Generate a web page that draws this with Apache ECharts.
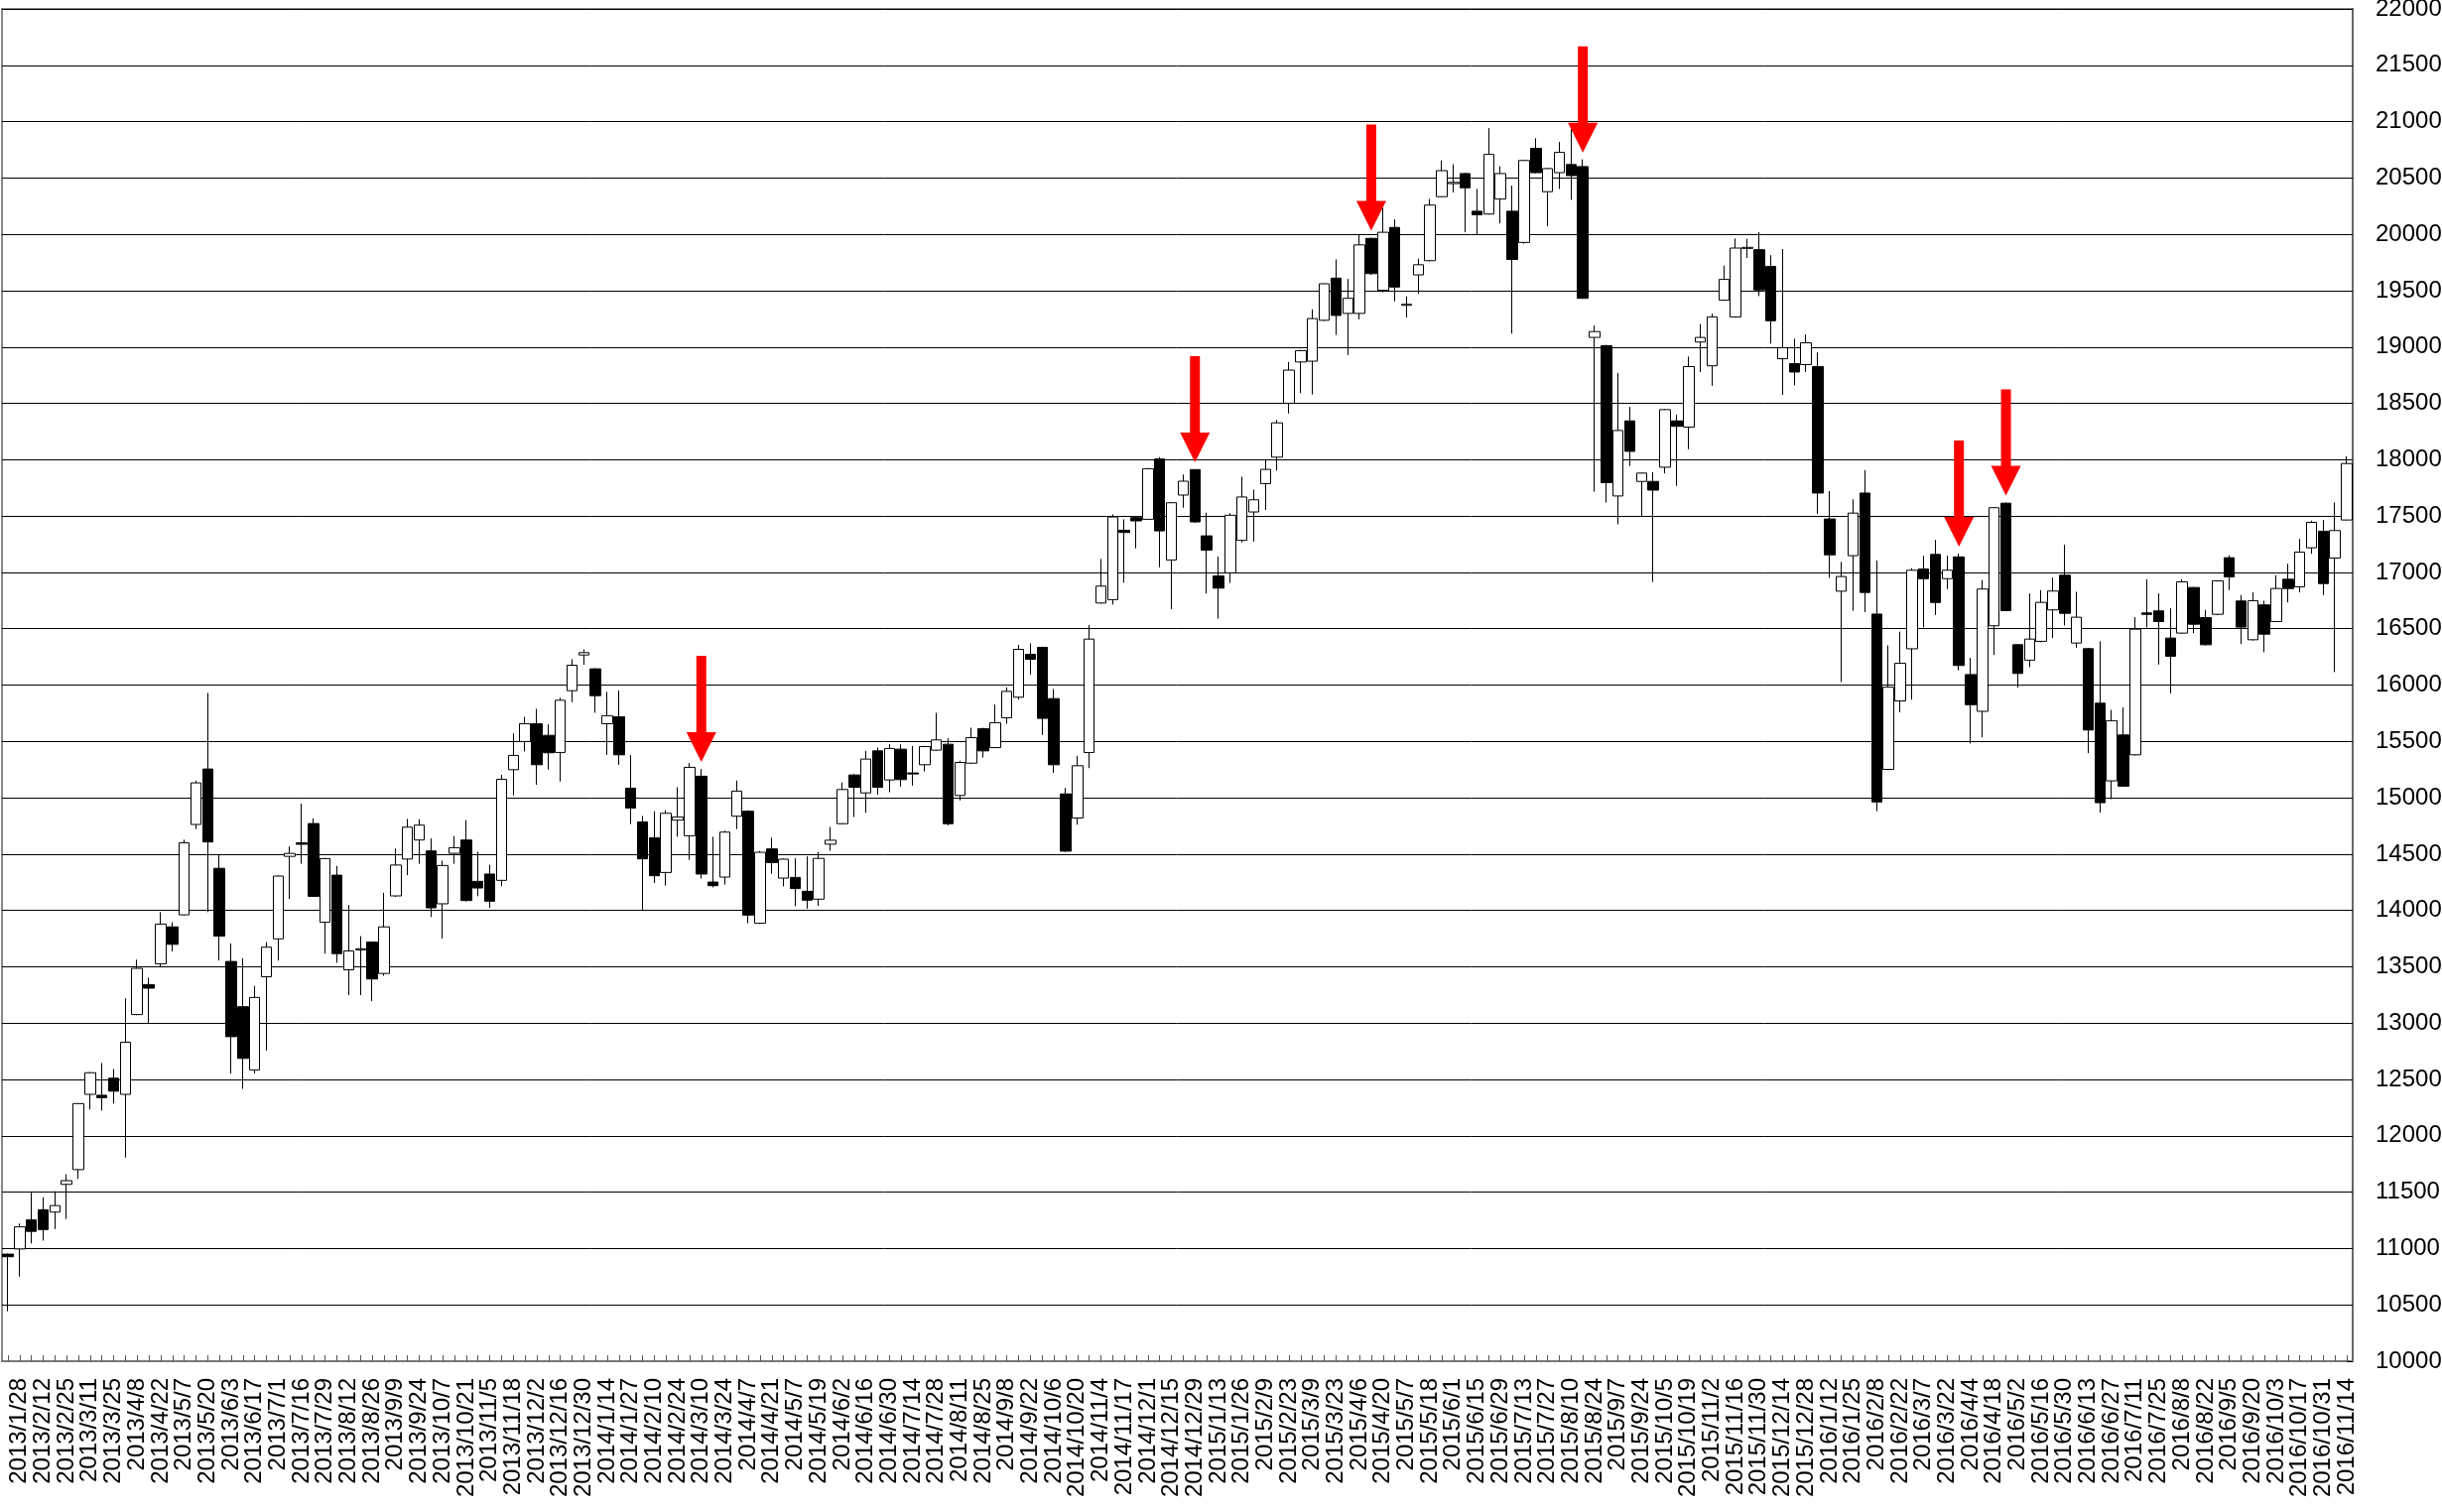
<!DOCTYPE html>
<html>
<head>
<meta charset="utf-8">
<script src="https://cdn.jsdelivr.net/npm/echarts@6/dist/echarts.min.js"></script>
<style>
html,body{margin:0;padding:0;background:#fff;}
#chart{width:2461px;height:1524px;}
</style>
</head>
<body>
<div id="chart"></div>
<script>
// Tick labels: one per two weeks (shown under the 2nd, 4th, ... weekly candle)
const labels = [
'2013/1/28','2013/2/12','2013/2/25','2013/3/11','2013/3/25','2013/4/8','2013/4/22','2013/5/7','2013/5/20','2013/6/3',
'2013/6/17','2013/7/1','2013/7/16','2013/7/29','2013/8/12','2013/8/26','2013/9/9','2013/9/24','2013/10/7','2013/10/21',
'2013/11/5','2013/11/18','2013/12/2','2013/12/16','2013/12/30','2014/1/14','2014/1/27','2014/2/10','2014/2/24','2014/3/10',
'2014/3/24','2014/4/7','2014/4/21','2014/5/7','2014/5/19','2014/6/2','2014/6/16','2014/6/30','2014/7/14','2014/7/28',
'2014/8/11','2014/8/25','2014/9/8','2014/9/22','2014/10/6','2014/10/20','2014/11/4','2014/11/17','2014/12/1','2014/12/15',
'2014/12/29','2015/1/13','2015/1/26','2015/2/9','2015/2/23','2015/3/9','2015/3/23','2015/4/6','2015/4/20','2015/5/7',
'2015/5/18','2015/6/1','2015/6/15','2015/6/29','2015/7/13','2015/7/27','2015/8/10','2015/8/24','2015/9/7','2015/9/24',
'2015/10/5','2015/10/19','2015/11/2','2015/11/16','2015/11/30','2015/12/14','2015/12/28','2016/1/12','2016/1/25','2016/2/8',
'2016/2/22','2016/3/7','2016/3/22','2016/4/4','2016/4/18','2016/5/2','2016/5/16','2016/5/30','2016/6/13','2016/6/27',
'2016/7/11','2016/7/25','2016/8/8','2016/8/22','2016/9/5','2016/9/20','2016/10/3','2016/10/17','2016/10/31','2016/11/14'
];

// Weekly OHLC (200 weeks)
const open = [
10950,10996,11254,11344,11323,11569,11700,12368,12360,12511,12368,13076,13342,13527,13854,13961,14763,15255,14374,13547,
13146,12585,13412,13748,14480,14600,14771,13895,14313,13473,13650,13719,13441,14129,14456,14625,14528,14059,14507,14625,
14258,14323,14267,15249,15499,15657,15554,15402,15950,16267,16144,15657,15719,15085,14786,14645,14337,14801,14663,15191,
14252,14296,14836,14880,13886,14546,14287,14293,14170,14100,14588,14770,15202,15043,15416,15158,15431,15220,15293,15422,
15475,15020,15307,15613,15445,15710,15892,16273,16335,15880,15034,14820,15401,16728,16758,17374,17486,17471,18006,17110,
17686,17912,17324,16968,16996,17284,17536,17788,18022,18500,18867,18874,19237,19611,19298,19298,19964,19503,20061,19370,
19640,19766,20334,20450,20539,20205,20180,20313,20205,19928,20763,20378,20547,20619,20601,19085,19011,17678,18344,17807,
17807,17933,18344,18289,19044,18833,19415,19267,19875,19863,19715,18896,18852,18844,18826,17474,16833,17148,17704,16630,
15252,15859,16322,17030,17159,16944,17137,16093,15767,16526,17614,16358,16221,16388,16667,16975,16373,16323,15839,15150,
15557,15381,16640,16658,16417,16461,16866,16599,16628,17130,16746,16402,16711,16564,16939,16872,17218,17365,17127,17465
];
const close = [
10927,11192,11152,11168,11381,11602,12286,12560,12339,12396,12830,13486,13310,13879,13699,14600,15132,14608,13772,12880,
12687,13228,13674,14305,14506,14587,14125,14460,13617,13641,13660,13392,13854,14403,14739,14757,14023,14399,14557,14088,
14199,14082,15164,15376,15657,15293,15399,15865,16176,16288,15906,15728,15381,14909,14458,14308,14862,14830,15270,14323,
14220,14695,15059,13959,14516,14425,14455,14194,14091,14462,14623,15073,15093,15343,15093,15437,15161,15211,15454,15513,
14770,15313,15533,15416,15666,15944,16317,16229,15704,15293,14526,15284,16408,16878,17492,17354,17457,17920,17368,17618,
17809,17448,17198,16860,17507,17669,17644,17914,18327,18795,18968,19252,19561,19280,19432,19906,19651,20018,19532,19379,
19730,20259,20565,20461,20413,20173,20709,20539,19777,20655,20547,20583,20727,20521,19432,19137,17796,18259,18074,17881,
17730,18444,18296,18826,19085,19267,19600,19878,19884,19507,19233,18993,18778,19037,17704,17156,16963,17526,16822,14963,
15981,16193,17019,16944,16733,17019,16174,15826,16852,17574,16661,16103,16408,16734,16834,16637,16602,15601,14956,15684,
15103,16496,16627,16564,16256,16916,16540,16358,16925,16960,16514,16749,16452,16857,16857,17180,17444,16901,17371,17966
];
const low = [
10443,10750,11045,11070,11172,11262,11618,12233,12224,12286,11807,13070,13002,13502,13637,13955,14722,13985,13555,12552,
12417,12552,12757,13555,14101,14415,14120,13617,13535,13248,13248,13195,13420,14120,14313,14414,13941,13751,14414,14080,
14126,14023,14214,15021,15411,15115,15249,15144,15848,16179,15754,15381,15293,14766,14000,14243,14220,14654,14449,14282,
14205,14229,14722,13886,13880,14326,14214,14038,14015,14040,14529,14765,14829,14867,15028,15049,15099,15108,15234,15415,
14755,14976,15300,15357,15440,15657,15871,16091,15557,15219,14520,14761,15263,16722,16714,16908,17213,17465,17046,16673,
17574,17440,16811,16590,16906,17266,17273,17554,17903,18410,18590,18579,19230,19108,18928,19245,19640,19486,19406,19262,
19471,19760,20330,20370,20018,19999,20175,20097,19119,19917,20540,20072,20403,20306,19430,17716,17619,17426,17944,17493,
16915,17878,17767,18093,18778,18656,19410,19260,19790,19452,19030,18574,18659,18778,17519,16952,16026,16659,16648,14881,
15245,15759,15870,16511,16622,16852,16130,15481,15537,16267,16655,15977,16159,16380,16417,16529,16329,15396,14868,14988,
15098,15375,16511,16182,15927,16455,16461,16350,16620,16843,16364,16395,16291,16560,16734,16822,17165,16799,16115,17460
];
const high = [
10955,11221,11495,11455,11508,11659,12290,12565,12646,12593,13220,13563,13404,13985,13895,14628,15152,15930,14497,13707,
13576,13330,13719,14310,14567,14948,14817,14465,14395,14047,13772,13725,14157,14550,14812,14810,14639,14443,14660,14801,
14522,14405,15203,15572,15719,15789,15651,15886,16229,16317,16150,15939,15953,15378,14839,14880,14889,15094,15308,15255,
14654,14707,15153,14889,14528,14645,14460,14463,14480,14520,14741,15137,15210,15416,15445,15475,15475,15460,15460,15754,
15528,15328,15622,15620,15827,15980,16356,16370,16340,15965,15087,15372,16532,17119,17515,17471,17500,17925,18023,17625,
17868,17915,17530,17140,17525,17849,17734,18004,18352,18867,18975,19334,19565,19777,19604,20000,19970,20234,20133,19449,
19784,20313,20655,20622,20545,20403,20942,20604,20432,20660,20852,20590,20820,20942,20665,19190,19019,18770,18470,17885,
17889,18450,18400,18915,19204,19296,19722,19963,19960,20019,19815,19870,19074,19111,18952,17722,17093,17648,17907,17104,
16352,16474,17037,17148,17289,17148,17167,16241,16933,17580,17620,16365,16813,16843,16954,17245,16828,16330,16388,15780,
15801,16602,16939,16813,16681,16939,16870,16667,16930,17151,16799,16822,16749,16975,17077,17297,17459,17465,17620,18031
];

// Weeks marked with a red arrow (candle index)
const arrowAt = [59, 101, 116, 134, 166, 170];

// Build categories: an unlabeled week followed by a labeled week
const categories = [];
labels.forEach(function (l, k) { categories.push('w' + k); categories.push(l); });
const ohlc = open.map(function (o, i) { return [o, close[i], low[i], high[i]]; });
const arrows = arrowAt.map(function (i) { return [i, high[i]]; });

const chart = echarts.init(document.getElementById('chart'), null, {renderer: 'canvas'});
chart.setOption({
  animation: false,
  backgroundColor: '#ffffff',
  grid: {left: 2, right: 90, top: 9, bottom: 152, show: true, borderColor: '#888', borderWidth: 2,
         backgroundColor: 'transparent', containLabel: false, outerBoundsMode: 'none'},
  xAxis: {
    type: 'category',
    data: categories,
    boundaryGap: true,
    axisLine: {show: true, lineStyle: {color: '#777', width: 2}},
    axisTick: {show: true, inside: true, length: 6, interval: 0, alignWithLabel: true, lineStyle: {color: '#555', width: 1}},
    axisLabel: {
      interval: 0,
      showMinLabel: true, showMaxLabel: true, hideOverlap: false,
      formatter: function (v) { return v.charAt(0) === 'w' ? '' : v; },
      rotate: 90, margin: 17, fontSize: 24, color: '#000', fontFamily: 'Liberation Sans'
    },
    splitLine: {show: false}
  },
  yAxis: {
    type: 'value',
    position: 'right',
    min: 10000, max: 22000, interval: 500,
    scale: false,
    axisLine: {show: true, lineStyle: {color: '#666', width: 2}},
    axisTick: {show: true, inside: true, length: 6, lineStyle: {color: '#000'}},
    axisLabel: {margin: 23, fontSize: 24, color: '#000', fontFamily: 'Liberation Sans',
                showMinLabel: true, showMaxLabel: true,
                formatter: function (v) { return String(v); }},
    splitLine: {show: true, lineStyle: {color: '#000', width: 1}}
  },
  series: [
    {
      type: 'candlestick',
      data: ohlc,
      barWidth: 11,
      itemStyle: {
        color: '#ffffff', color0: '#000000',
        borderColor: '#000000', borderColor0: '#000000', borderColorDoji: '#000000',
        borderWidth: 1
      },
      silent: true
    },
    {
      type: 'scatter',
      data: arrows,
      symbol: 'path://M10,0 L20,0 L20,77 L30,77 L15,107 L0,77 L10,77 Z',
      symbolSize: [30, 107],
      symbolKeepAspect: false,
      symbolOffset: [0, -(107 / 2 + 7)],
      itemStyle: {color: '#ff0000', opacity: 1},
      z: 10,
      silent: true
    }
  ]
});
</script>
</body>
</html>
